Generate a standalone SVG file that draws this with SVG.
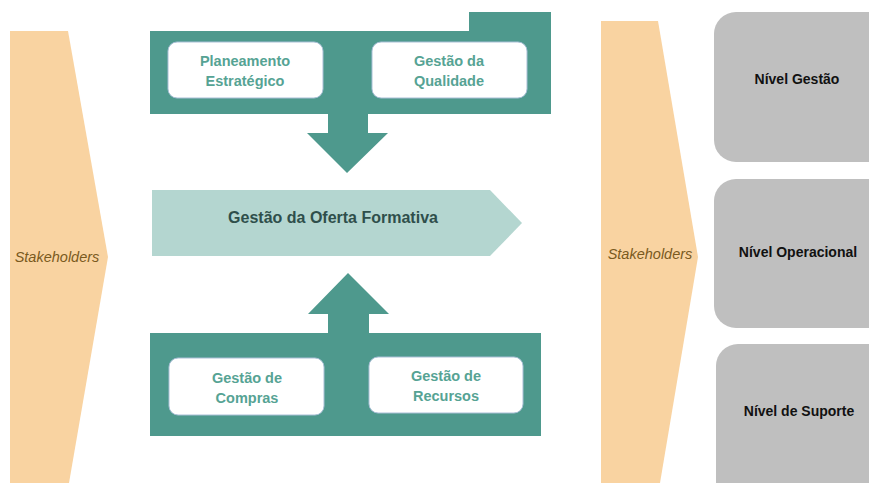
<svg xmlns="http://www.w3.org/2000/svg" width="869" height="483" viewBox="0 0 869 483">
<defs>
<style>
.chev{fill:#f9d3a1}
.teal{fill:#4e998d}
.wbox{fill:#ffffff;stroke:#a9bfd6;stroke-width:1}
.grey{fill:#bfbfbf}
.tt{font-family:"Liberation Sans",Arial,sans-serif;font-weight:bold;font-size:14.5px;fill:#56a394;text-anchor:middle}
.gt{font-family:"Liberation Sans",Arial,sans-serif;font-weight:bold;font-size:14px;fill:#111111;text-anchor:middle}
.sk{font-family:"Liberation Sans",Arial,sans-serif;font-style:italic;font-size:14.5px;fill:#7a5a1e;text-anchor:middle}
</style>
</defs>
<g id="stakeholders-left">
<polygon class="chev" points="10,31 68,31 108,257 69,483 10,483"/>
<text class="sk" x="57" y="262">Stakeholders</text>
</g>
<g id="stakeholders-right">
<polygon class="chev" points="601,21 658,21 698,257 660,483 601,483"/>
<text class="sk" x="650" y="259">Stakeholders</text>
</g>
<g id="top-group">
<rect class="teal" x="469" y="12" width="82" height="20"/>
<rect class="teal" x="150" y="31" width="401" height="83"/>
<polygon class="teal" points="328,113 368,113 368,133 388,133 347,173 307,133 328,133"/>
</g>
<g id="planeamento">
<rect class="wbox" x="168" y="42" width="155" height="56" rx="9"/>
<text class="tt" x="245" y="66">Planeamento</text>
<text class="tt" x="245" y="86">Estratégico</text>
</g>
<g id="qualidade">
<rect class="wbox" x="372" y="42" width="155" height="56" rx="9"/>
<text class="tt" x="449" y="66">Gestão da</text>
<text class="tt" x="449" y="86">Qualidade</text>
</g>
<g id="oferta">
<polygon fill="#b4d6d0" points="152,190 490,190 522,223 490,256 152,256"/>
<text x="333" y="223" font-family="Liberation Sans,Arial,sans-serif" font-weight="bold" font-size="16" fill="#2f4f4b" text-anchor="middle">Gestão da Oferta Formativa</text>
</g>
<g id="bottom-group">
<rect class="teal" x="150" y="333" width="391" height="103"/>
<polygon class="teal" points="328,334 369,334 369,314 389,314 348,273 308,314 328,314"/>
</g>
<g id="compras">
<rect class="wbox" x="169" y="358" width="155" height="57" rx="9"/>
<text class="tt" x="247" y="383">Gestão de</text>
<text class="tt" x="247" y="403">Compras</text>
</g>
<g id="recursos">
<rect class="wbox" x="369" y="357" width="154" height="56" rx="9"/>
<text class="tt" x="446" y="381">Gestão de</text>
<text class="tt" x="446" y="401">Recursos</text>
</g>
<g id="nivel-gestao">
<rect class="grey" x="714" y="12" width="180" height="150" rx="22"/>
<text class="gt" x="797" y="84">Nível Gestão</text>
</g>
<g id="nivel-operacional">
<rect class="grey" x="714" y="179" width="180" height="149" rx="22"/>
<text class="gt" x="798" y="257">Nível Operacional</text>
</g>
<g id="nivel-suporte">
<rect class="grey" x="716" y="344" width="180" height="170" rx="22"/>
<text class="gt" x="799" y="416">Nível de Suporte</text>
</g>
<g id="connectors"></g>
</svg>
